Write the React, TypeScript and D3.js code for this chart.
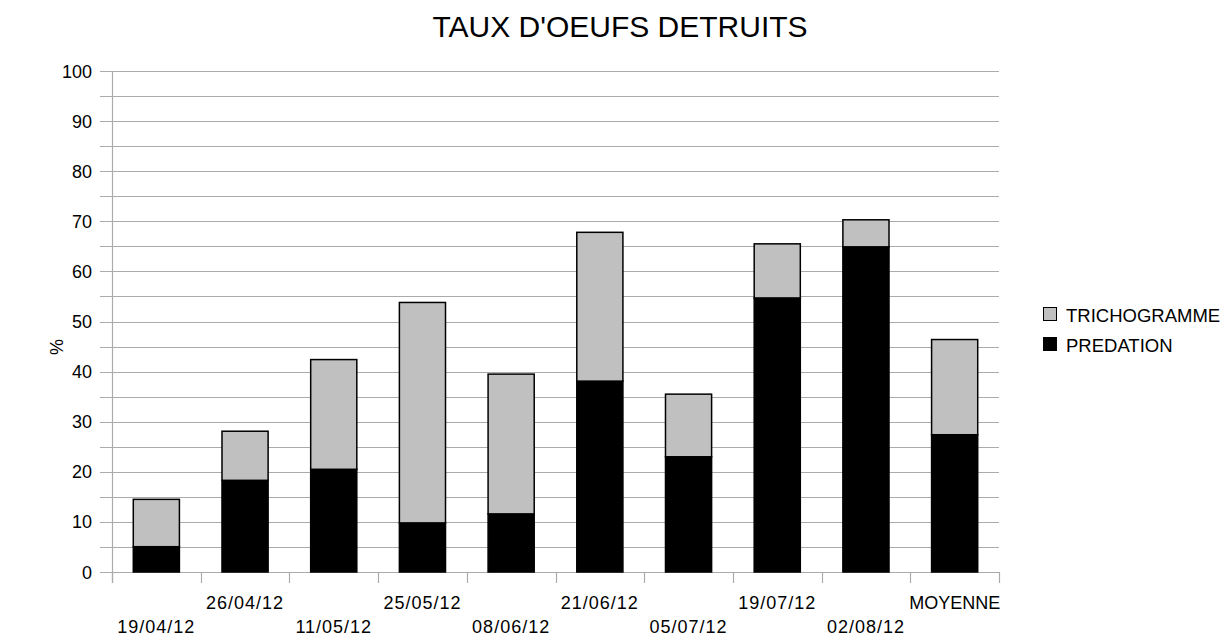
import React from "react";
import * as d3 from "d3";

const categories = ["19/04/12", "26/04/12", "11/05/12", "25/05/12", "08/06/12", "21/06/12", "05/07/12", "19/07/12", "02/08/12", "MOYENNE"];
const predation = [5.05, 18.3, 20.5, 9.8, 11.6, 38.1, 23.0, 54.7, 64.9, 27.4];
const trichogramme = [9.45, 9.8, 21.9, 44.0, 27.9, 29.7, 12.5, 10.8, 5.4, 19.0];
const yTicks = [0, 10, 20, 30, 40, 50, 60, 70, 80, 90, 100];
const yMinorTicks = d3.range(0, 101, 5);
const seriesNames = ["PREDATION", "TRICHOGRAMME"];
const seriesColors = ["#000000", "#c0c0c0"];

export default function App() {
  const W = 1225, H = 637;
  const left = 112, right = 999, top = 71, bottom = 572;
  const font = "'Liberation Sans', Arial, sans-serif";

  const x = d3.scaleBand<string>().domain(categories).range([left, right]).paddingInner(0.48).paddingOuter(0.24);
  const y = d3.scaleLinear().domain([0, 100]).range([bottom, top]);

  const rows = categories.map((c, i) => ({ cat: c, PREDATION: predation[i], TRICHOGRAMME: trichogramme[i] }));
  const stacked = d3.stack<any>().keys(seriesNames)(rows);
  const boundaries = d3.range(0, categories.length + 1).map((i) => left + i * ((right - left) / categories.length));

  return (
    <svg width={W} height={H} style={{ position: "absolute", left: 0, top: 0, background: "#fff" }} fontFamily={font}>
      <rect x={0} y={0} width={W} height={H} fill="#fff" />
      <text x={620} y={37} textAnchor="middle" fontSize={30} fill="#000">TAUX D'OEUFS DETRUITS</text>

      {yMinorTicks.map((t) => (
        <line key={"g" + t} x1={100} x2={right} y1={Math.round(y(t)) + 0.5} y2={Math.round(y(t)) + 0.5} stroke="#ababab" strokeWidth={1.2} />
      ))}
      {yTicks.map((t) => (
        <text key={"yl" + t} x={92} y={y(t) + 6.5} textAnchor="end" fontSize={18} fill="#000">{t}</text>
      ))}
      <line x1={left + 0.5} x2={left + 0.5} y1={top} y2={bottom + 11} stroke="#ababab" strokeWidth={1.2} />
      {boundaries.map((b, i) => (
        <line key={"xt" + i} x1={Math.round(b) + 0.5} x2={Math.round(b) + 0.5} y1={bottom} y2={bottom + 11} stroke="#ababab" strokeWidth={1.2} />
      ))}

      {stacked.map((s, si) => (
        <g key={s.key}>
          {s.map((d, i) => (
            <rect key={i} x={x(categories[i])!} width={x.bandwidth()} y={y(d[1])} height={y(d[0]) - y(d[1])}
              fill={seriesColors[si]} stroke="#000" strokeWidth={1.5} />
          ))}
        </g>
      ))}

      {categories.map((c, i) => (
        <text key={"xl" + c} x={x(c)! + x.bandwidth() / 2} y={i % 2 === 0 ? 633 : 609} textAnchor="middle" fontSize={18} letterSpacing={c === "MOYENNE" ? 0 : 1} fill="#000">{c}</text>
      ))}

      <text transform={`translate(63,347) rotate(-90)`} textAnchor="middle" fontSize={18} fill="#000">%</text>

      {["TRICHOGRAMME", "PREDATION"].map((name, i) => {
        const si = seriesNames.indexOf(name);
        const cy = 315 + i * 30;
        return (
          <g key={name}>
            <rect x={1043.5} y={cy - 7.5} width={13} height={13} fill={seriesColors[si]} stroke="#000" strokeWidth={1} />
            <text x={1066} y={cy + 6.5} fontSize={18.5} fill="#000">{name}</text>
          </g>
        );
      })}
    </svg>
  );
}
